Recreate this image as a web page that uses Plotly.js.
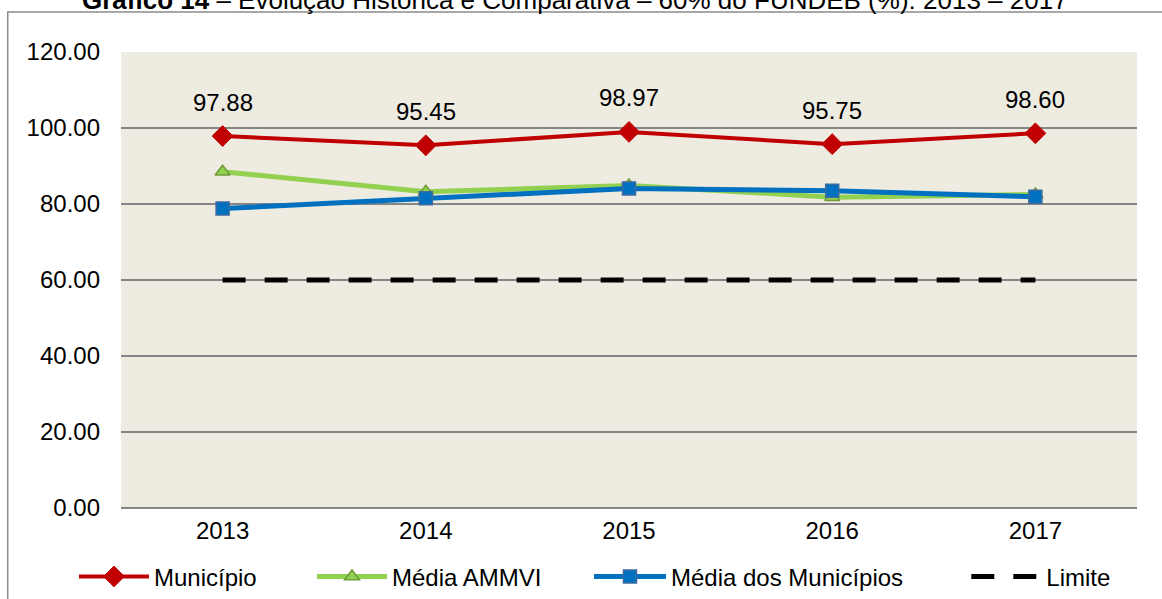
<!DOCTYPE html>
<html>
<head>
<meta charset="utf-8">
<script src="https://cdn.plot.ly/plotly-3.0.1.min.js"></script>
<style>html,body{margin:0;padding:0;background:#fff;}#chart{width:1162px;height:599px;}</style>
</head>
<body>
<div id="chart"></div>
<script>
const years = ['2013', '2014', '2015', '2016', '2017'];
const municipio = [97.88, 95.45, 98.97, 95.75, 98.60];
const mediaAMMVI = [88.5, 83.2, 84.9, 81.8, 82.5];
const mediaMunicipios = [78.8, 81.5, 84.1, 83.5, 81.9];
const limite = [60, 60, 60, 60, 60];
const yTicks = [0, 20, 40, 60, 80, 100, 120];

const font = 'Liberation Sans, Arial, sans-serif';

const traces = [
  {
    x: years, y: municipio, name: 'Município', type: 'scatter', mode: 'lines+markers',
    legend: 'legend',
    line: {color: '#C00000', width: 4},
    marker: {symbol: 'diamond', size: 16, color: '#C00000', line: {color: '#C00000', width: 1}}
  },
  {
    x: years, y: mediaAMMVI, name: 'Média AMMVI', type: 'scatter', mode: 'lines+markers',
    legend: 'legend2',
    line: {color: '#92D050', width: 5},
    marker: {symbol: 'triangle-up', size: 13, color: '#92D050', line: {color: '#6E9B3A', width: 1.5}}
  },
  {
    x: years, y: mediaMunicipios, name: 'Média dos Municípios', type: 'scatter', mode: 'lines+markers',
    legend: 'legend3',
    line: {color: '#0070C0', width: 5},
    marker: {symbol: 'square', size: 13, color: '#0070C0', line: {color: '#3F6A9E', width: 1.5}}
  },
  {
    x: years, y: limite, name: 'Limite', type: 'scatter', mode: 'lines',
    legend: 'legend4',
    line: {color: '#000000', width: 5, dash: '23px,19px'}
  }
];

const annotations = years.map((yr, i) => ({
  x: i, y: municipio[i], xref: 'x', yref: 'y',
  text: municipio[i].toFixed(2), showarrow: false,
  yshift: 34, font: {family: font, size: 24, color: '#000'}
}));

annotations.push({
  xref: 'paper', yref: 'paper', x: 0.447, y: 1.114, xanchor: 'center', yanchor: 'middle',
  showarrow: false,
  text: '<b>Gráfico 14</b> – Evolução Histórica e Comparativa – 60% do FUNDEB (%): 2013 – 2017',
  font: {family: font, size: 26, color: '#000'}
});

function legendAt(x, w) {
  return {
    orientation: 'h', x: x, xanchor: 'left', y: -0.151, yanchor: 'middle',
    itemwidth: w,
    font: {family: font, size: 24, color: '#000'},
    bgcolor: 'rgba(0,0,0,0)'
  };
}

const layout = {
  width: 1162, height: 599,
  margin: {l: 121, r: 25, t: 52, b: 91, autoexpand: false},
  paper_bgcolor: '#ffffff',
  plot_bgcolor: '#EEEBE0',
  showlegend: true,
  font: {family: font, size: 24, color: '#000'},
  xaxis: {
    type: 'category', range: [-0.5, 4.5],
    showgrid: false, zeroline: false,
    showline: false, ticks: '',
    ticklabelstandoff: 6,
    tickfont: {family: font, size: 24, color: '#000'}
  },
  yaxis: {
    range: [0, 120], tickvals: yTicks, tickformat: '.2f',
    showgrid: true, gridcolor: '#868686', gridwidth: 1.5,
    zeroline: true, zerolinecolor: '#868686', zerolinewidth: 1.5,
    showline: false, ticks: '',
    ticklabelstandoff: 20,
    tickfont: {family: font, size: 24, color: '#000'}
  },
  legend: legendAt(-0.0463, 70),
  legend2: legendAt(0.188, 70),
  legend3: legendAt(0.4606, 72),
  legend4: legendAt(0.832, 70),
  shapes: [
    {type: 'rect', xref: 'paper', yref: 'paper', x0: -0.1115, x1: 1.03, y0: -0.25, y1: 1.0877,
     line: {color: '#8c8c8c', width: 1.5}, fillcolor: 'rgba(0,0,0,0)', layer: 'below'}
  ],
  annotations: annotations
};

Plotly.newPlot('chart', traces, layout, {displayModeBar: false, staticPlot: true});
</script>
</body>
</html>
